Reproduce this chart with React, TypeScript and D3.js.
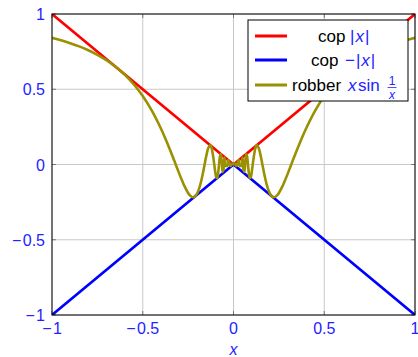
import React from "react";
import * as d3 from "d3";

const W = 418;
const H = 357;

const xTicks = [-1, -0.5, 0, 0.5, 1];
const yTicks = [-1, -0.5, 0, 0.5, 1];
const tickLabels = ["\u2212\u200A1", "\u2212\u200A0.5", "0", "0.5", "1"];

// cop |x| and cop -|x|
const copX = [-1, 0, 1];
const copUpper = [1, 0, 1];
const copLower = [-1, 0, -1];

// robber x sin(1/x)
const robberX = [
  -1, -0.95, -0.9, -0.85, -0.8, -0.75, -0.7, -0.65, -0.6, -0.55, -0.5, -0.45, -0.4, -0.375, -0.35, -0.325, -0.3,
  -0.28, -0.27, -0.25, -0.24, -0.23, -0.22, -0.21, -0.2, -0.19, -0.18, -0.17, -0.16, -0.15, -0.14, -0.13,
  -0.125, -0.12, -0.11, -0.1, -0.095, -0.09, -0.085, -0.08, -0.075, -0.07, -0.065, -0.06, -0.055, -0.05,
  -0.045, -0.04, -0.035, -0.03, -0.025, -0.02, -0.015, -0.01, -0.005, 0,
  0.005, 0.01, 0.015, 0.02, 0.025, 0.03, 0.035, 0.04, 0.045, 0.05, 0.055, 0.06, 0.065, 0.07, 0.075, 0.08,
  0.085, 0.09, 0.095, 0.1, 0.11, 0.12, 0.125, 0.13, 0.14, 0.15, 0.16, 0.17, 0.18, 0.19, 0.2, 0.21, 0.22,
  0.23, 0.24, 0.25, 0.27, 0.28, 0.3, 0.325, 0.35, 0.375, 0.4, 0.45, 0.5, 0.55, 0.6, 0.65, 0.7, 0.75, 0.8,
  0.85, 0.9, 0.95, 1,
];
const robberY = [
  0.8415, 0.8253, 0.806, 0.7848, 0.759, 0.7289, 0.693, 0.6496, 0.597, 0.5333, 0.455, 0.3578, 0.2394, 0.1715, 0.0983, 0.021, -0.0572,
  -0.1167, -0.1439, -0.1892, -0.2051, -0.2149, -0.217, -0.2097, -0.1918, -0.1619, -0.1197, -0.0663, -0.0053, 0.0561, 0.1061, 0.1283,
  0.1237, 0.1065, 0.036, -0.0544, -0.0847, -0.0894, -0.061, -0.0053, 0.0521, 0.0692, 0.0206, -0.0491, -0.0341, 0.0456,
  -0.0103, -0.0053, -0.0102, 0.0282, 0.0186, -0.0052, -0.0096, 0.0051, 0.0044, 0,
  0.0044, 0.0051, -0.0096, -0.0052, 0.0186, 0.0282, -0.0102, -0.0053, -0.0103, 0.0456, -0.0341, -0.0491, 0.0206, 0.0692, 0.0521, -0.0053,
  -0.061, -0.0894, -0.0847, -0.0544, 0.036, 0.1065, 0.1237, 0.1283, 0.1061, 0.0561, -0.0053, -0.0663, -0.1197, -0.1619, -0.1918, -0.2097, -0.217,
  -0.2149, -0.2051, -0.1892, -0.1439, -0.1167, -0.0572, 0.021, 0.0983, 0.1715, 0.2394, 0.3578, 0.455, 0.5333, 0.597, 0.6496, 0.693, 0.7289, 0.759,
  0.7848, 0.806, 0.8253, 0.8415,
];

const RED = "#ff0000";
const BLUE = "#0000ff";
const OLIVE = "#999100";
const LABEL = "#2323ff";
const FONT = "'Liberation Sans', Arial, sans-serif";

export default function App() {
  const left = 52, right = 415, top = 14, bottom = 315;
  const x = d3.scaleLinear().domain([-1, 1]).range([left, right]);
  const y = d3.scaleLinear().domain([-1, 1]).range([bottom, top]);

  const line = d3.line<[number, number]>().x((d) => x(d[0])).y((d) => y(d[1]));
  const smooth = d3
    .line<[number, number]>()
    .x((d) => x(d[0]))
    .y((d) => y(d[1]))
    .curve(d3.curveCatmullRom.alpha(0.5));

  const upper = copX.map((v, i) => [v, copUpper[i]] as [number, number]);
  const lower = copX.map((v, i) => [v, copLower[i]] as [number, number]);
  const robber = robberX.map((v, i) => [v, robberY[i]] as [number, number]);

  const lgX = 248, lgY = 20, lgW = 160, lgH = 81;
  const rows = [36, 60, 85];
  const LF = 17;

  return (
    <svg
      width={W}
      height={H}
      style={{ position: "absolute", left: 0, top: 0, background: "#fff" }}
      fontFamily={FONT}
    >
      <defs>
        <clipPath id="plotclip">
          <rect x={left} y={top} width={right - left} height={bottom - top} />
        </clipPath>
      </defs>
      {/* grid */}
      {xTicks.map((t) => (
        <line key={"gx" + t} x1={x(t)} x2={x(t)} y1={top} y2={bottom} stroke="#c8c8c8" strokeWidth={1} />
      ))}
      {yTicks.map((t) => (
        <line key={"gy" + t} x1={left} x2={right} y1={y(t)} y2={y(t)} stroke="#c8c8c8" strokeWidth={1} />
      ))}
      {/* tick marks */}
      {xTicks.map((t) => (
        <g key={"tx" + t}>
          <line x1={x(t)} x2={x(t)} y1={bottom} y2={bottom - 4} stroke="#777" />
          <line x1={x(t)} x2={x(t)} y1={top} y2={top + 4} stroke="#777" />
        </g>
      ))}
      {yTicks.map((t) => (
        <g key={"ty" + t}>
          <line x1={left} x2={left + 4} y1={y(t)} y2={y(t)} stroke="#777" />
          <line x1={right} x2={right - 4} y1={y(t)} y2={y(t)} stroke="#777" />
        </g>
      ))}
      {/* series */}
      <g clipPath="url(#plotclip)">
        <path d={line(upper) || ""} fill="none" stroke={RED} strokeWidth={2.6} />
        <path d={line(lower) || ""} fill="none" stroke={BLUE} strokeWidth={2.6} />
        <path d={smooth(robber) || ""} fill="none" stroke={OLIVE} strokeWidth={2.6} strokeLinejoin="round" />
      </g>
      {/* axis box */}
      <rect x={left} y={top} width={right - left} height={bottom - top} fill="none" stroke="#000" strokeWidth={1} />
      {/* tick labels */}
      {xTicks.map((t, i) => (
        <text key={"lx" + t} x={x(t)} y={334} textAnchor="middle" fontSize={16} fill={LABEL}>
          {tickLabels[i]}
        </text>
      ))}
      {yTicks.map((t, i) => (
        <text key={"ly" + t} x={45} y={y(t) + 6} textAnchor="end" fontSize={16} fill={LABEL}>
          {tickLabels[i]}
        </text>
      ))}
      <text x={(left + right) / 2} y={355} textAnchor="middle" fontSize={16} fontStyle="italic" fill={LABEL}>
        x
      </text>
      {/* legend */}
      <rect x={lgX} y={lgY} width={lgW} height={lgH} fill="#fff" stroke="#000" strokeWidth={1} />
      <line x1={255} x2={287} y1={rows[0]} y2={rows[0]} stroke={RED} strokeWidth={3} />
      <line x1={255} x2={287} y1={rows[1]} y2={rows[1]} stroke={BLUE} strokeWidth={3} />
      <line x1={255} x2={287} y1={rows[2]} y2={rows[2]} stroke={OLIVE} strokeWidth={3} />
      <text x={318} y={rows[0] + 6} fontSize={LF} fill="#000">cop</text>
      <text x={350} y={rows[0] + 6} fontSize={LF} fill={LABEL}>
        <tspan>|</tspan>
        <tspan fontStyle="italic" dx={1}>x</tspan>
        <tspan dx={1}>|</tspan>
      </text>
      <text x={311} y={rows[1] + 6} fontSize={LF} fill="#000">cop</text>
      <text x={345} y={rows[1] + 6} fontSize={LF} fill={LABEL}>
        <tspan>{"\u2212"}</tspan>
        <tspan dx={1}>|</tspan>
        <tspan fontStyle="italic" dx={1}>x</tspan>
        <tspan dx={1}>|</tspan>
      </text>
      <text x={292} y={rows[2] + 6} fontSize={LF} fill="#000">
        robber
      </text>
      <text x={348} y={rows[2] + 6} fontSize={LF} fill={LABEL} fontStyle="italic">
        x
      </text>
      <text x={358} y={rows[2] + 6} fontSize={LF} fill={LABEL}>
        sin
      </text>
      <text x={392} y={85} fontSize={12} fill={LABEL} textAnchor="middle">
        1
      </text>
      <line x1={387.5} x2={396.5} y1={87.5} y2={87.5} stroke={LABEL} strokeWidth={0.8} />
      <text x={392} y={98.5} fontSize={12} fill={LABEL} textAnchor="middle" fontStyle="italic">
        x
      </text>
    </svg>
  );
}
